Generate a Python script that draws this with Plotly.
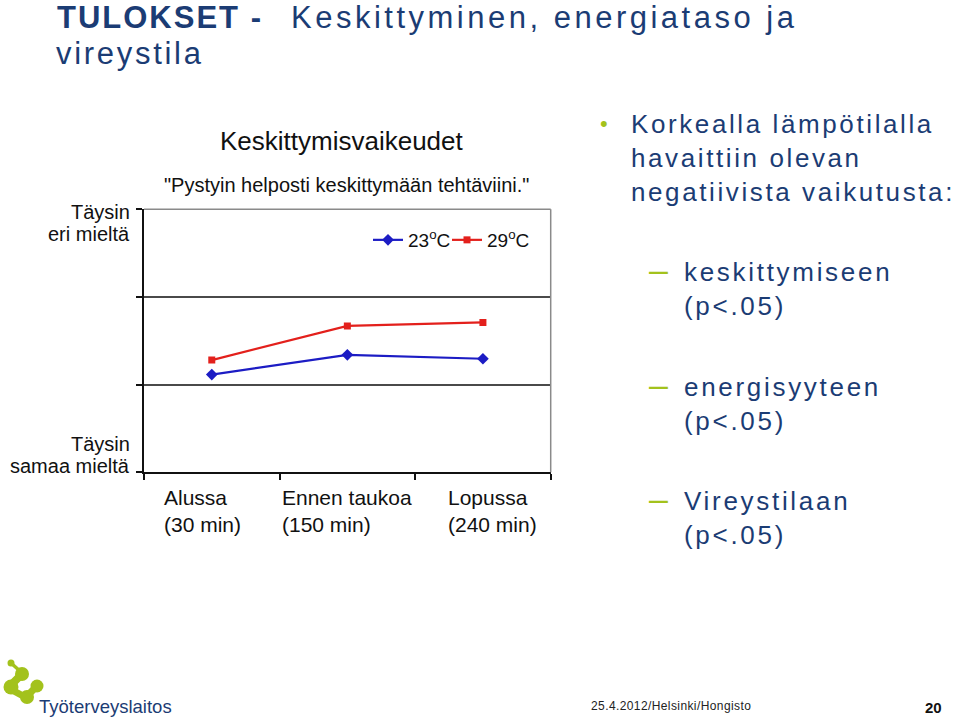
import plotly.graph_objects as go

# ---------------- data ----------------
categories = ["Alussa", "Ennen taukoa", "Lopussa"]
category_labels = ["Alussa<br>(30 min)", "Ennen taukoa<br>(150 min)", "Lopussa<br>(240 min)"]
values_23 = [3.23, 3.68, 3.59]
values_29 = [3.56, 4.34, 4.42]
series_names = ["23<sup>o</sup>C", "29<sup>o</sup>C"]
y_ticks = [1, 3, 5, 7]
y_top_label = ["Täysin", "eri mieltä"]
y_bottom_label = ["Täysin", "samaa mieltä"]
chart_title = "Keskittymisvaikeudet"
chart_subtitle = "\"Pystyin helposti keskittymään tehtäviini.\""
slide_title_bold = "TULOKSET -"
slide_title_rest = ["Keskittyminen, energiataso ja", "vireystila"]
bullet_text = "Korkealla lämpötilalla<br>havaittiin olevan<br>negatiivista vaikutusta:"
sub_items = ["keskittymiseen<br>(p&lt;.05)", "energisyyteen<br>(p&lt;.05)", "Vireystilaan<br>(p&lt;.05)"]
footer_logo_text = "Työterveyslaitos"
footer_text = "25.4.2012/Helsinki/Hongisto"
page_number = "20"

# ---------------- styling ----------------
W, H = 960, 722
NAVY = "#1b3c74"
GREEN = "#a3c21c"
BLUE = "#1c1cc4"
RED = "#e3201c"
ARIAL = "Liberation Sans, Arial, sans-serif"
label_xshift = [-9, 0, 10]


def px(x):
    return x / W


def py(y):
    return 1 - y / H


fig = go.Figure()
fig.add_trace(go.Scatter(
    x=categories, y=values_23, name=series_names[0], mode="lines+markers",
    line=dict(color=BLUE, width=2.2),
    marker=dict(symbol="diamond", size=9, color=BLUE), legend="legend",
))
fig.add_trace(go.Scatter(
    x=categories, y=values_29, name=series_names[1], mode="lines+markers",
    line=dict(color=RED, width=2.2),
    marker=dict(symbol="square", size=7, color=RED), legend="legend2",
))

annotations = []
spacing = {}


def ann(spc=None, **kw):
    base = dict(showarrow=False, xref="paper", yref="paper")
    base.update(kw)
    annotations.append(base)
    if spc:
        spacing[len(annotations) - 1] = spc


# slide title
TITLE_SIZE = 31
ann(text="<b>%s</b>" % slide_title_bold, x=px(55), y=py(17.5), xanchor="left", yanchor="middle",
    align="left", font=dict(family=ARIAL, size=TITLE_SIZE, color=NAVY), spc=2.0)
ann(text=slide_title_rest[0], x=px(289), y=py(17.5), xanchor="left", yanchor="middle",
    align="left", font=dict(family=ARIAL, size=TITLE_SIZE, color=NAVY), spc=3.5)
ann(text=slide_title_rest[1], x=px(54), y=py(53.5), xanchor="left", yanchor="middle",
    align="left", font=dict(family=ARIAL, size=TITLE_SIZE, color=NAVY), spc=2.7)

# chart titles
ann(text=chart_title, x=px(342), y=py(141), xanchor="center", yanchor="middle",
    font=dict(family=ARIAL, size=26, color="#111111"))
ann(text=chart_subtitle, x=px(346), y=py(185), xanchor="center", yanchor="middle",
    font=dict(family=ARIAL, size=20, color="#111111"))

# y end labels
for txt, yy in zip(y_top_label + y_bottom_label, [212, 234, 444, 466]):
    ann(text=txt, x=px(132), y=py(yy), xanchor="right", yanchor="middle",
        font=dict(family=ARIAL, size=20, color="#111111"))

# x category labels
for cat, lab, dx in zip(categories, category_labels, label_xshift):
    ann(text=lab, xref="x", x=cat, y=py(511), xanchor="center", yanchor="middle", xshift=dx,
        align="left", font=dict(family=ARIAL, size=21, color="#111111"))

# right text
ann(text="•", x=px(604), y=py(123), xanchor="center", yanchor="middle",
    font=dict(family=ARIAL, size=22, color=GREEN))
ann(text=bullet_text, x=px(629), y=py(158), xanchor="left", yanchor="middle",
    align="left", font=dict(family=ARIAL, size=26, color=NAVY), spc=2.6)
for txt, yc in zip(sub_items, [289, 404, 518]):
    ann(text="–", x=px(658), y=py(yc - 20), xanchor="center", yanchor="middle",
        font=dict(family=ARIAL, size=34, color=GREEN))
    ann(text=txt, x=px(682), y=py(yc), xanchor="left", yanchor="middle",
        align="left", font=dict(family=ARIAL, size=26, color=NAVY), spc=2.7)

# footer
ann(text=footer_logo_text, x=px(37), y=py(706), xanchor="left", yanchor="middle",
    align="left", font=dict(family=ARIAL, size=18.5, color=NAVY))
ann(text=footer_text, x=px(589), y=py(706), xanchor="left", yanchor="middle",
    align="left", font=dict(family=ARIAL, size=12, color="#222222"), spc=0.4)
ann(text="<b>%s</b>" % page_number, x=px(933), y=py(707), xanchor="center", yanchor="middle",
    font=dict(family=ARIAL, size=15, color="#111111"))

# shapes: plot border (top/right) and logo
shapes = [
    dict(type="line", xref="x domain", yref="y domain", x0=0, x1=1, y0=1, y1=1,
         line=dict(color="#8a8a8a", width=1.5), layer="above"),
    dict(type="line", xref="x domain", yref="y domain", x0=1, x1=1, y0=0, y1=1,
         line=dict(color="#8a8a8a", width=1.5), layer="above"),
]


def circ(cx, cy, r):
    return dict(type="circle", xref="paper", yref="paper",
                x0=px(cx - r), x1=px(cx + r), y0=py(cy + r), y1=py(cy - r),
                fillcolor=GREEN, line=dict(width=0))


def seg(x0, y0, x1, y1, w):
    return dict(type="line", xref="paper", yref="paper", x0=px(x0), y0=py(y0), x1=px(x1), y1=py(y1),
                line=dict(color=GREEN, width=w))


shapes += [
    circ(11, 663, 3.5), seg(11, 663, 21, 672, 3.5),
    circ(22, 674, 7), circ(11, 687, 7.5), circ(37, 686, 6.5), circ(27, 697, 7),
    seg(20, 676, 12, 684, 8), seg(12, 690, 25, 697, 7), seg(28, 695, 36, 687, 7),
]

legend_font = dict(family=ARIAL, size=19, color="#111111")
fig.update_layout(
    width=W, height=H,
    margin=dict(l=0, r=0, t=0, b=0),
    paper_bgcolor="white", plot_bgcolor="white",
    showlegend=True,
    legend=dict(orientation="h", x=px(368), y=py(240), xanchor="left", yanchor="middle",
                bgcolor="rgba(0,0,0,0)", font=legend_font, itemwidth=30),
    legend2=dict(orientation="h", x=px(447), y=py(240), xanchor="left", yanchor="middle",
                 bgcolor="rgba(0,0,0,0)", font=legend_font, itemwidth=30),
    xaxis=dict(domain=[px(144), px(550.7)], type="category", range=[-0.5, 2.5],
               tickson="boundaries", ticks="outside", ticklen=6, tickwidth=1.5, tickcolor="#111111",
               showline=True, linecolor="#111111", linewidth=1.5, showgrid=False,
               showticklabels=False, fixedrange=True),
    yaxis=dict(domain=[py(472.3), py(209.3)], range=[1, 7], tickvals=y_ticks,
               ticks="outside", ticklen=6, tickwidth=1.5, tickcolor="#111111",
               showline=True, linecolor="#111111", linewidth=1.5,
               showgrid=True, gridcolor="#4a4a4a", gridwidth=1.8, zeroline=False,
               showticklabels=False, fixedrange=True),
    annotations=annotations,
    shapes=shapes,
)

css = "html,body{margin:0;padding:0;overflow:hidden;}"
css += "".join('g.annotation[data-index="%d"] text{letter-spacing:%.1fpx}' % (i, s) for i, s in spacing.items())
js = "var s=document.createElement('style');s.textContent='%s';document.head.appendChild(s);" % css

fig.write_html("out.html", post_script=js, config={"displayModeBar": False})
